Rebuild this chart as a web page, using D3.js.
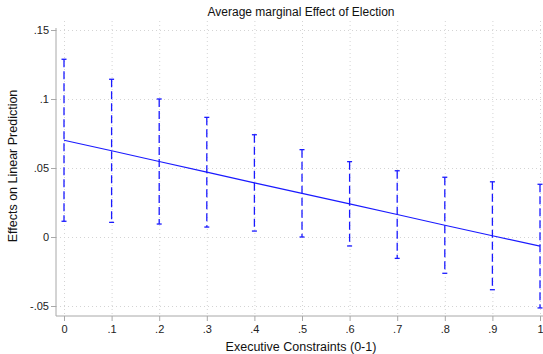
<!DOCTYPE html>
<html>
<head>
<meta charset="utf-8">
<script src="https://cdn.jsdelivr.net/npm/d3@7"></script>
<style>
  html, body { margin: 0; padding: 0; background: #fff; }
  svg { display: block; font-family: "Liberation Sans", Arial, sans-serif; }
  .grid line { stroke: #d4d4d4; stroke-dasharray: 1,3; }
  .grid .domain { display: none; }
  .chart-axis .domain, .chart-axis line { stroke: #a8a8a8; }
  .chart-axis text { fill: #222; font-size: 11px; }
</style>
</head>
<body>
<div id="chart"></div>
<script>
const constraintLevels = [0, 0.1, 0.2, 0.3, 0.4, 0.5, 0.6, 0.7, 0.8, 0.9, 1];
const marginalEffects = [0.0701, 0.0625, 0.0547, 0.0470, 0.0392, 0.0316, 0.0240, 0.0163, 0.0085, 0.0009, -0.0066];
const upperBounds = [0.1288, 0.1143, 0.1000, 0.0867, 0.0741, 0.0633, 0.0546, 0.0480, 0.0433, 0.0400, 0.0382];
const lowerBounds = [0.0114, 0.0106, 0.0094, 0.0072, 0.0043, 0.0000, -0.0065, -0.0155, -0.0263, -0.0382, -0.0514];
const yTicks = [-0.05, 0, 0.05, 0.1, 0.15];
const xTicks = [0, 0.1, 0.2, 0.3, 0.4, 0.5, 0.6, 0.7, 0.8, 0.9, 1];

const width = 543, height = 354;
// stata style labels: .15, -.05, 0, 1
const stataFmt = (v) => {
  if (v === 0) return "0";
  if (v === 1) return "1";
  const s = String(+v.toFixed(2));
  return s.replace(/^(-?)0\./, "$1.");
};

const data = constraintLevels.map((x, i) => ({
  x, est: marginalEffects[i], hi: upperBounds[i], lo: lowerBounds[i]
}));

const x = d3.scaleLinear().domain([0, 1]).range([64, 540]);
const y = d3.scaleLinear().domain([-0.05, 0.15]).range([306, 30]);

const svg = d3.select("#chart").append("svg")
  .attr("width", width)
  .attr("height", height);

// gridlines
svg.append("g")
  .attr("class", "grid")
  .attr("transform", "translate(56,0)")
  .call(d3.axisLeft(y).tickValues(yTicks).tickSize(-(width - 56)).tickFormat(""));

svg.append("g")
  .attr("class", "grid")
  .attr("transform", "translate(0,314)")
  .call(d3.axisBottom(x).tickValues(xTicks).tickSize(-(314 - 20)).tickFormat(""));

// axes
const yAxis = svg.append("g")
  .attr("class", "chart-axis")
  .attr("transform", "translate(56,0)")
  .call(d3.axisLeft(y).tickValues(yTicks).tickSize(5).tickSizeOuter(0).tickFormat(stataFmt));
yAxis.select(".domain").attr("d", "M0,28V316");
yAxis.selectAll("text").attr("x", -7);

const xAxis = svg.append("g")
  .attr("class", "chart-axis")
  .attr("transform", "translate(0,316)")
  .call(d3.axisBottom(x).tickValues(xTicks).tickSize(5).tickSizeOuter(0).tickFormat(stataFmt));
xAxis.select(".domain").attr("d", `M56,0H${width}`);
xAxis.selectAll("text").attr("y", 9);

// confidence intervals
const ci = svg.append("g").attr("class", "ci");
ci.selectAll(".ci-line")
  .data(data)
  .join("line")
  .attr("class", "ci-line")
  .attr("x1", (d) => x(d.x))
  .attr("x2", (d) => x(d.x))
  .attr("y1", (d) => y(d.hi))
  .attr("y2", (d) => y(d.lo))
  .attr("stroke", "#1a1aff")
  .attr("stroke-width", 1.3)
  .attr("stroke-dasharray", "8,4");

["hi", "lo"].forEach((key) => {
  ci.selectAll(`.cap-${key}`)
    .data(data)
    .join("line")
    .attr("class", `cap-${key}`)
    .attr("x1", (d) => x(d.x) - 2.5)
    .attr("x2", (d) => x(d.x) + 2.5)
    .attr("y1", (d) => y(d[key]))
    .attr("y2", (d) => y(d[key]))
    .attr("stroke", "#1a1aff")
    .attr("stroke-width", 1.3);
});

// point estimates
svg.append("path")
  .datum(data)
  .attr("fill", "none")
  .attr("stroke", "#1a1aff")
  .attr("stroke-width", 1.2)
  .attr("d", d3.line().x((d) => x(d.x)).y((d) => y(d.est)));

// titles
svg.append("text")
  .attr("x", 301)
  .attr("y", 16)
  .attr("text-anchor", "middle")
  .attr("font-size", 12)
  .attr("fill", "#111")
  .text("Average marginal Effect of Election");

svg.append("text")
  .attr("x", 301)
  .attr("y", 350.5)
  .attr("text-anchor", "middle")
  .attr("font-size", 12.5)
  .attr("fill", "#111")
  .text("Executive Constraints (0-1)");

svg.append("text")
  .attr("transform", "translate(17,166) rotate(-90)")
  .attr("text-anchor", "middle")
  .attr("font-size", 12.5)
  .attr("fill", "#111")
  .text("Effects on Linear Prediction");
</script>
</body>
</html>
